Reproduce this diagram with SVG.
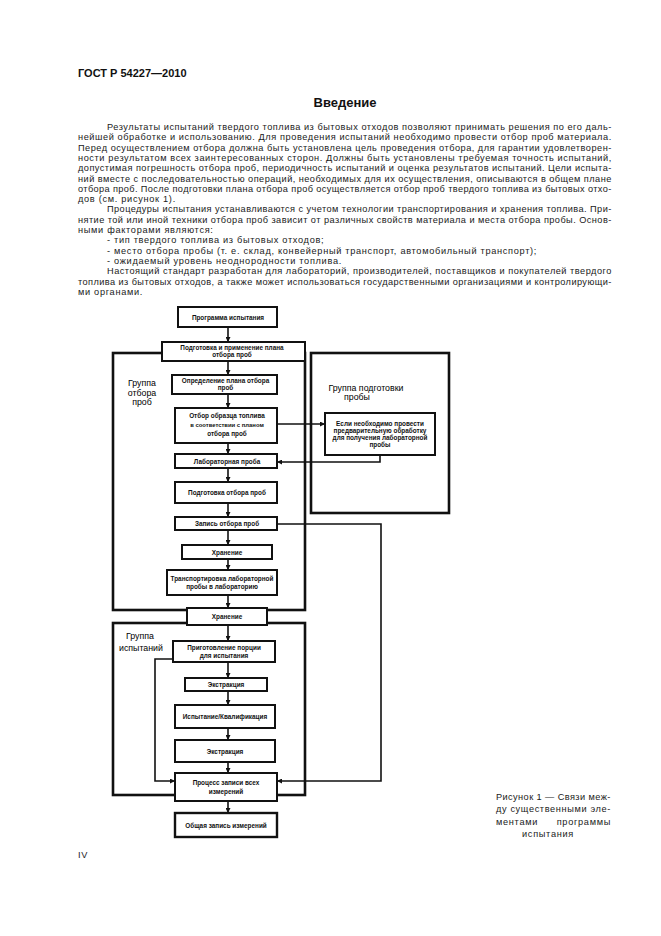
<svg xmlns="http://www.w3.org/2000/svg" width="661" height="936" viewBox="0 0 661 936">
<style>
  .bg{fill:#ffffff}
  .p{font-family:"Liberation Sans",Arial,sans-serif;font-size:9.2px;fill:#1a1a1a;letter-spacing:0.7px}
  .h1{font-family:"Liberation Sans",Arial,sans-serif;font-size:11px;font-weight:bold;fill:#111}
  .h2{font-family:"Liberation Sans",Arial,sans-serif;font-size:13px;font-weight:bold;fill:#111}
  .box{fill:#ffffff;stroke:#111;stroke-width:2}
  .grp{fill:none;stroke:#111;stroke-width:2.6}
  .bt{font-family:"Liberation Sans",Arial,sans-serif;font-size:6.4px;font-weight:bold;fill:#111;text-anchor:middle}
  .gl{font-family:"Liberation Sans",Arial,sans-serif;font-size:8.8px;fill:#000;text-anchor:middle}
  .con{fill:none;stroke:#111;stroke-width:1.6}
</style>
<defs>
  <marker id="arr" viewBox="0 0 6 6" refX="6" refY="3" markerWidth="5" markerHeight="5" markerUnits="userSpaceOnUse" orient="auto">
    <path d="M0,0 L6,3 L0,6 z" fill="#111"/>
  </marker>
</defs>
<rect class="bg" x="0" y="0" width="661" height="936"/>

<g id="header">
  <text class="h1" x="78" y="77">ГОСТ Р 54227—2010</text>
  <text class="h2" x="345" y="107" text-anchor="middle">Введение</text>
</g>

<g id="body-text">
  <text class="p" x="107" y="130" textLength="505" lengthAdjust="spacing">Результаты испытаний твердого топлива из бытовых отходов позволяют принимать решения по его даль-</text>
  <text class="p" x="78" y="140.3" textLength="534" lengthAdjust="spacing">нейшей обработке и использованию. Для проведения испытаний необходимо провести отбор проб материала.</text>
  <text class="p" x="78" y="150.6" textLength="534" lengthAdjust="spacing">Перед осуществлением отбора должна быть установлена цель проведения отбора, для гарантии удовлетворен-</text>
  <text class="p" x="78" y="160.9" textLength="534" lengthAdjust="spacing">ности результатом всех заинтересованных сторон. Должны быть установлены требуемая точность испытаний,</text>
  <text class="p" x="78" y="171.2" textLength="534" lengthAdjust="spacing">допустимая погрешность отбора проб, периодичность испытаний и оценка результатов испытаний. Цели испыта-</text>
  <text class="p" x="78" y="181.5" textLength="534" lengthAdjust="spacing">ний вместе с последовательностью операций, необходимых для их осуществления, описываются в общем плане</text>
  <text class="p" x="78" y="191.8" textLength="534" lengthAdjust="spacing">отбора проб. После подготовки плана отбора проб осуществляется отбор проб твердого топлива из бытовых отхо-</text>
  <text class="p" x="78" y="202.1">дов (см. рисунок 1).</text>
  <text class="p" x="107" y="212.4" textLength="505" lengthAdjust="spacing">Процедуры испытания устанавливаются с учетом технологии транспортирования и хранения топлива. При-</text>
  <text class="p" x="78" y="222.7" textLength="534" lengthAdjust="spacing">нятие той или иной техники отбора проб зависит от различных свойств материала и места отбора пробы. Основ-</text>
  <text class="p" x="78" y="233">ными факторами являются:</text>
  <text class="p" x="107" y="243.3">- тип твердого топлива из бытовых отходов;</text>
  <text class="p" x="107" y="253.6">- место отбора пробы (т. е. склад, конвейерный транспорт, автомобильный транспорт);</text>
  <text class="p" x="107" y="263.9">- ожидаемый уровень неоднородности топлива.</text>
  <text class="p" x="107" y="274.2" textLength="505" lengthAdjust="spacing">Настоящий стандарт разработан для лабораторий, производителей, поставщиков и покупателей твердого</text>
  <text class="p" x="78" y="284.5" textLength="534" lengthAdjust="spacing">топлива из бытовых отходов, а также может использоваться государственными организациями и контролирующи-</text>
  <text class="p" x="78" y="294.8">ми органами.</text>
</g>

<g id="group-sampling">
  <rect class="grp" x="113" y="353" width="192" height="257"/>
  <text class="gl" x="142" y="386">Группа</text>
  <text class="gl" x="142" y="395.5">отбора</text>
  <text class="gl" x="142" y="405">проб</text>
</g>
<g id="group-preparation">
  <rect class="grp" x="311" y="353" width="138" height="160"/>
  <text class="gl" x="366" y="391">Группа подготовки</text>
  <text class="gl" x="357" y="400">пробы</text>
</g>
<g id="group-testing">
  <rect class="grp" x="113" y="623" width="192" height="172"/>
  <text class="gl" x="140" y="639">Группа</text>
  <text class="gl" x="141" y="651">испытаний</text>
</g>

<g id="connectors">
  <path class="con" marker-end="url(#arr)" d="M228,327 V342"/>
  <path class="con" marker-end="url(#arr)" d="M228,361 V375"/>
  <path class="con" marker-end="url(#arr)" d="M228,394 V408"/>
  <path class="con" marker-end="url(#arr)" d="M228,443 V454"/>
  <path class="con" marker-end="url(#arr)" d="M228,468 V482"/>
  <path class="con" marker-end="url(#arr)" d="M228,503 V517"/>
  <path class="con" marker-end="url(#arr)" d="M228,530 V545"/>
  <path class="con" marker-end="url(#arr)" d="M228,559 V570"/>
  <path class="con" marker-end="url(#arr)" d="M228,595 V608"/>
  <path class="con" marker-end="url(#arr)" d="M228,625 V641"/>
  <path class="con" marker-end="url(#arr)" d="M228,662 V678"/>
  <path class="con" marker-end="url(#arr)" d="M228,691 V705"/>
  <path class="con" marker-end="url(#arr)" d="M228,728 V740"/>
  <path class="con" marker-end="url(#arr)" d="M228,762 V773"/>
  <path class="con" marker-end="url(#arr)" d="M228,801 V813"/>
  <path class="con" marker-end="url(#arr)" d="M277,424 H325"/>
  <path class="con" marker-end="url(#arr)" d="M380,455 V462 H277"/>
  <path class="con" marker-end="url(#arr)" d="M277,524 H381 V781 H277"/>
  <path class="con" marker-end="url(#arr)" d="M173,659 H155 V781 H175"/>
</g>

<g id="n1"><rect class="box" x="178" y="307" width="99" height="20"/>
  <text class="bt" x="228" y="319.5">Программа испытания</text></g>
<g id="n2"><rect class="box" x="162" y="342" width="143" height="19"/>
  <text class="bt" x="232" y="349.8">Подготовка и применение плана</text>
  <text class="bt" x="232" y="357.2">отбора проб</text></g>
<g id="n3"><rect class="box" x="172" y="375" width="105" height="19"/>
  <text class="bt" x="225.5" y="382.8">Определение плана отбора</text>
  <text class="bt" x="225.5" y="390">проб</text></g>
<g id="n4"><rect class="box" x="175" y="408" width="102" height="35"/>
  <text class="bt" x="227" y="418">Отбор образца топлива</text>
  <text class="bt" x="227" y="426.5" style="font-size:5.9px">в соответствии с планом</text>
  <text class="bt" x="227" y="435.5">отбора проб</text></g>
<g id="n5"><rect class="box" x="175" y="454" width="102" height="14"/>
  <text class="bt" x="227" y="463.5">Лабораторная проба</text></g>
<g id="n6"><rect class="box" x="175" y="482" width="102" height="21"/>
  <text class="bt" x="227" y="495">Подготовка отбора проб</text></g>
<g id="n7"><rect class="box" x="175" y="517" width="102" height="13"/>
  <text class="bt" x="227" y="526">Запись отбора проб</text></g>
<g id="n8"><rect class="box" x="182" y="545" width="90" height="14"/>
  <text class="bt" x="227" y="554.5">Хранение</text></g>
<g id="n9"><rect class="box" x="167" y="570" width="110" height="25"/>
  <text class="bt" x="222" y="580.5">Транспортировка лабораторной</text>
  <text class="bt" x="222" y="589">пробы в лабораторию</text></g>
<g id="n10"><rect class="box" x="187" y="608" width="80" height="17"/>
  <text class="bt" x="227" y="619">Хранение</text></g>
<g id="n11"><rect class="box" x="173" y="641" width="102" height="21"/>
  <text class="bt" x="224" y="649.5">Приготовление порции</text>
  <text class="bt" x="224" y="657.5">для испытания</text></g>
<g id="n12"><rect class="box" x="185" y="678" width="82" height="13"/>
  <text class="bt" x="226" y="687">Экстракция</text></g>
<g id="n13"><rect class="box" x="175" y="705" width="100" height="23"/>
  <text class="bt" x="225" y="719">Испытание/Квалификация</text></g>
<g id="n14"><rect class="box" x="175" y="740" width="100" height="22"/>
  <text class="bt" x="225" y="753.5">Экстракция</text></g>
<g id="n15"><rect class="box" x="175" y="773" width="102" height="28"/>
  <text class="bt" x="226" y="785">Процесс записи всех</text>
  <text class="bt" x="226" y="793.5">измерений</text></g>
<g id="n16"><rect class="box" x="175" y="813" width="102" height="24" style="stroke-width:2.4"/>
  <text class="bt" x="226" y="827.5">Общая запись измерений</text></g>
<g id="n-pre"><rect class="box" x="325" y="413" width="110" height="42"/>
  <text class="bt" x="380" y="425.5">Если необходимо провести</text>
  <text class="bt" x="380" y="432.5">предварительную обработку</text>
  <text class="bt" x="380" y="439.5">для получения лабораторной</text>
  <text class="bt" x="380" y="446.5">пробы</text></g>

<g id="caption">
  <text class="p" x="496" y="800" textLength="115" lengthAdjust="spacing">Рисунок 1 — Связи меж-</text>
  <text class="p" x="496" y="812" textLength="115" lengthAdjust="spacing">ду существенными эле-</text>
  <text class="p" x="496" y="824.5">ментами</text>
  <text class="p" x="611" y="824.5" text-anchor="end">программы</text>
  <text class="p" x="548" y="837" text-anchor="middle">испытания</text>
</g>
<g id="footer">
  <text class="p" x="78" y="858">IV</text>
</g>
</svg>
